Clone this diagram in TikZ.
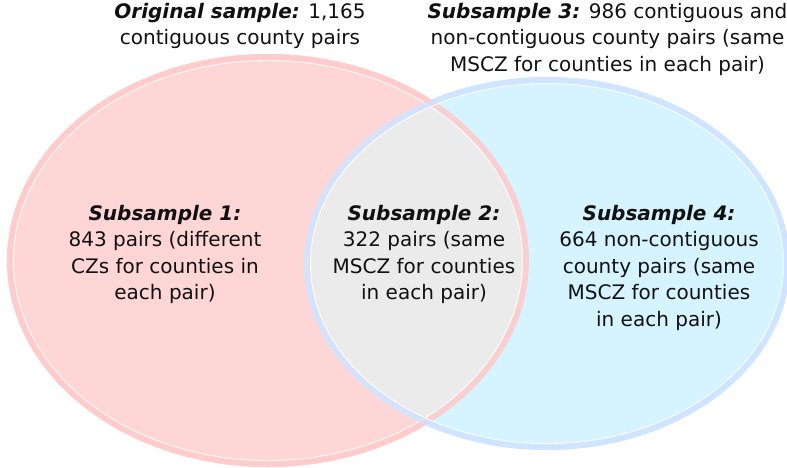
\documentclass[tikz,border=0pt]{standalone}
\usepackage{fontspec}
\setmainfont{DejaVu Sans}
\definecolor{pinkfill}{HTML}{FFD6D6}
\definecolor{pinkband}{HTML}{FFC8C8}
\definecolor{bluefill}{HTML}{D5F4FF}
\definecolor{blueband}{HTML}{CEDFFF}
\definecolor{midgray}{HTML}{EBEBEB}
\definecolor{inktext}{HTML}{111111}
\tikzset{
  label text/.style={align=center, anchor=base, inner sep=0pt, text=inktext,
    font=\fontsize{20}{26.5}\selectfont},
  band/.style={line width=6pt, opacity=0.75},
  rim/.style={line width=0.9pt, white, opacity=0.9},
}
\newcommand{\hd}[1]{\textbf{\textit{#1}}}
\begin{document}
\begin{tikzpicture}[x=1pt,y=-1pt]
  \useasboundingbox (0,0) rectangle (787,467);
  % set fills
  \fill[pinkfill] (268,260.5) ellipse [x radius=261, y radius=206.5];
  \fill[bluefill] (547,263.5) ellipse [x radius=243, y radius=186.5];
  \begin{scope}
    \clip (268,260.5) ellipse [x radius=261, y radius=206.5];
    \fill[midgray] (547,263.5) ellipse [x radius=243, y radius=186.5];
  \end{scope}
  % outlines
  \draw[band, pinkband] (268,260.5) ellipse [x radius=258, y radius=203.5];
  \draw[rim] (268,260.5) ellipse [x radius=254.5, y radius=200];
  \draw[band, blueband] (547,263.5) ellipse [x radius=240, y radius=183.5];
  \draw[rim] (547,263.5) ellipse [x radius=236.5, y radius=180];
  % labels (anchored at the baseline of the last line)
  \node[label text] (orig) at (240,44.5)
    {\hd{Original sample:} 1,165\\contiguous county pairs};
  \node[label text] (s3) at (607.5,71)
    {\hd{Subsample 3:} 986 contiguous and\\non-contiguous county pairs (same\\MSCZ for counties in each pair)};
  \node[label text] (s1) at (165,299.5)
    {\hd{Subsample 1:}\\843 pairs (different\\CZs for counties in\\each pair)};
  \node[label text] (s2) at (424,299.5)
    {\hd{Subsample 2:}\\322 pairs (same\\MSCZ for counties\\in each pair)};
  \node[label text] (s4) at (659,326)
    {\hd{Subsample 4:}\\664 non-contiguous\\county pairs (same\\MSCZ for counties\\in each pair)};
\end{tikzpicture}
\end{document}
